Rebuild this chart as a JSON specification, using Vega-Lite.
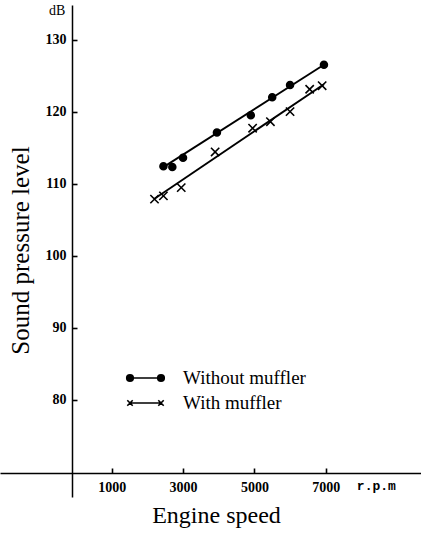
{
  "$schema": "https://vega.github.io/schema/vega-lite/v6.json",
  "width": 421,
  "height": 492,
  "autosize": {"type": "none"},
  "padding": {"left": 0, "top": 5, "right": 0, "bottom": 37},
  "background": "white",
  "config": {
    "view": {"stroke": null},
    "font": "Liberation Serif",
    "axis": {"domainColor": "black", "domainWidth": 1.5, "tickColor": "black", "tickWidth": 1.6, "labelColor": "black", "titleColor": "black", "grid": false}
  },
  "datasets": {
    "points": [
      {"series": "Without muffler", "rpm": 2450, "spl": 112.4},
      {"series": "Without muffler", "rpm": 2700, "spl": 112.3},
      {"series": "Without muffler", "rpm": 3000, "spl": 113.6},
      {"series": "Without muffler", "rpm": 3950, "spl": 117.1},
      {"series": "Without muffler", "rpm": 4900, "spl": 119.5},
      {"series": "Without muffler", "rpm": 5500, "spl": 122.0},
      {"series": "Without muffler", "rpm": 6000, "spl": 123.7},
      {"series": "Without muffler", "rpm": 6950, "spl": 126.5},
      {"series": "With muffler", "rpm": 2200, "spl": 107.85},
      {"series": "With muffler", "rpm": 2450, "spl": 108.3},
      {"series": "With muffler", "rpm": 2950, "spl": 109.45},
      {"series": "With muffler", "rpm": 3900, "spl": 114.4},
      {"series": "With muffler", "rpm": 4950, "spl": 117.7},
      {"series": "With muffler", "rpm": 5450, "spl": 118.6},
      {"series": "With muffler", "rpm": 6000, "spl": 120.0},
      {"series": "With muffler", "rpm": 6550, "spl": 123.1},
      {"series": "With muffler", "rpm": 6900, "spl": 123.6}
    ],
    "fits": [
      {"series": "Without muffler", "rpm": 2450, "spl": 112.3},
      {"series": "Without muffler", "rpm": 6950, "spl": 126.5},
      {"series": "With muffler", "rpm": 2200, "spl": 107.9},
      {"series": "With muffler", "rpm": 6950, "spl": 123.8}
    ]
  },
  "resolve": {"scale": {"shape": "independent"}, "axis": {"x": "independent", "y": "independent"}},
  "layer": [
    {
      "data": {"name": "fits"},
      "mark": {"type": "line", "color": "black", "strokeWidth": 1.9},
      "encoding": {
        "x": {
          "field": "rpm", "type": "quantitative",
          "scale": {"domain": [-2131, 9671], "nice": false, "zero": false},
          "axis": {
            "values": [1000, 3000, 5000, 7000], "format": "d", "offset": -24, "ticks": false, "labelPadding": 7,
            "labelFont": "Liberation Serif", "labelFontWeight": "bold", "labelFontSize": 14,
            "title": "Engine speed", "titleFont": "Liberation Serif", "titleFontSize": 24, "titleFontWeight": "normal",
            "titleX": 216, "titleY": 49, "titleAlign": "center", "titleBaseline": "alphabetic"
          }
        },
        "y": {
          "field": "spl", "type": "quantitative",
          "scale": {"domain": [66.5, 134.8], "nice": false, "zero": false},
          "axis": {
            "values": [80, 90, 100, 110, 120, 130], "offset": -72, "ticks": false, "labelPadding": 6,
            "labelFont": "Liberation Serif", "labelFontWeight": "bold", "labelFontSize": 14,
            "title": "Sound pressure level", "titleFont": "Liberation Serif", "titleFontSize": 25, "titleFontWeight": "normal",
            "titleAngle": 270, "titleX": -44, "titleY": 245, "titleAlign": "center", "titleBaseline": "alphabetic"
          }
        },
        "detail": {"field": "series", "type": "nominal"}
      }
    },
    {
      "data": {"name": "fits"},
      "mark": {"type": "point", "filled": false, "color": "black", "opacity": 0, "strokeWidth": 1.6},
      "encoding": {
        "x": {
          "field": "rpm", "type": "quantitative",
          "axis": {"orient": "top", "offset": -468, "values": [1000, 3000, 5000, 7000], "labels": false, "domain": false, "ticks": true, "tickSize": 5, "title": null}
        },
        "y": {
          "field": "spl", "type": "quantitative",
          "axis": {"orient": "right", "offset": -349, "values": [80, 90, 100, 110, 120, 130], "labels": false, "domain": false, "ticks": true, "tickSize": 5, "title": null}
        },
        "shape": {
          "field": "series", "type": "nominal",
          "scale": {
            "domain": ["Without muffler", "With muffler"],
            "range": [
              "M-1.55,0H1.55M-1.88,0A0.33,0.33 0 1,0 -1.22,0A0.33,0.33 0 1,0 -1.88,0M-1.75,0A0.2,0.2 0 1,0 -1.35,0A0.2,0.2 0 1,0 -1.75,0M-1.62,0A0.07,0.07 0 1,0 -1.48,0A0.07,0.07 0 1,0 -1.62,0M1.22,0A0.33,0.33 0 1,0 1.88,0A0.33,0.33 0 1,0 1.22,0M1.35,0A0.2,0.2 0 1,0 1.75,0A0.2,0.2 0 1,0 1.35,0M1.48,0A0.07,0.07 0 1,0 1.62,0A0.07,0.07 0 1,0 1.48,0",
              "M-1.55,0H1.55M-1.82,-0.27L-1.28,0.27M-1.82,0.27L-1.28,-0.27M1.28,-0.27L1.82,0.27M1.28,0.27L1.82,-0.27"
            ]
          },
          "legend": {
            "orient": "none", "legendX": 134.5, "legendY": 362, "title": null, "padding": 0,
            "symbolSize": 400, "symbolStrokeWidth": 1.6, "symbolOpacity": 1, "symbolStrokeColor": "black",
            "labelFont": "Liberation Serif", "labelFontSize": 19, "labelColor": "black", "labelOffset": 26.5,
            "rowPadding": 4
          }
        }
      }
    },
    {
      "data": {"name": "points"},
      "mark": {"type": "point", "filled": true, "fill": "black", "stroke": "black", "strokeWidth": 1.6, "size": 48, "opacity": 1},
      "encoding": {
        "x": {"field": "rpm", "type": "quantitative", "axis": null},
        "y": {"field": "spl", "type": "quantitative", "axis": null},
        "shape": {
          "field": "series", "type": "nominal",
          "scale": {"domain": ["Without muffler", "With muffler"], "range": ["circle", "M-1.2,-1.2L1.2,1.2M-1.2,1.2L1.2,-1.2"]},
          "legend": null
        }
      }
    },
    {
      "data": {"values": [{}]},
      "mark": {"type": "text", "text": "dB", "font": "Liberation Serif", "fontSize": 14, "align": "center", "baseline": "middle", "color": "black"},
      "encoding": {"x": {"datum": -530, "type": "quantitative", "axis": null}, "y": {"datum": 133.9, "type": "quantitative", "axis": null}}
    },
    {
      "data": {"values": [{}]},
      "mark": {"type": "text", "text": "r.p.m", "font": "Liberation Mono", "fontWeight": "bold", "fontSize": 13, "align": "center", "baseline": "middle", "color": "black"},
      "encoding": {"x": {"datum": 8420, "type": "quantitative", "axis": null}, "y": {"datum": 68.0, "type": "quantitative", "axis": null}}
    }
  ]
}
